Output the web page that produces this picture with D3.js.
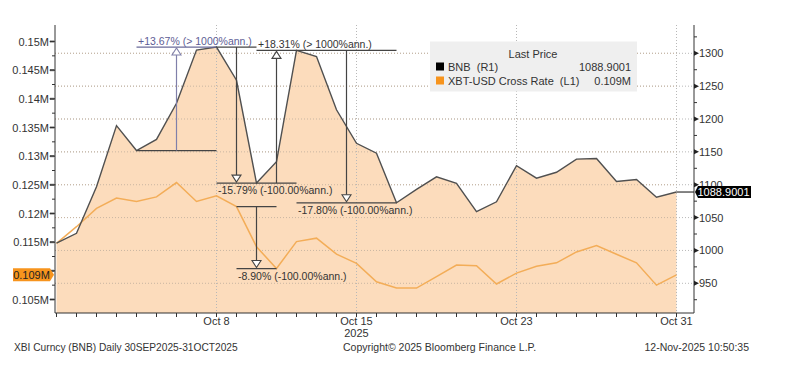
<!DOCTYPE html>
<html><head><meta charset="utf-8">
<script src="https://cdn.jsdelivr.net/npm/d3@7"></script>
<style>
body{margin:0;background:#fff}
svg{display:block}
text{font-family:"Liberation Sans",Arial,sans-serif;fill:#333}
</style>
</head><body><svg id="c" width="800" height="380"></svg>
<script>
// ---------- data ----------
const dates = ["2025-09-30","2025-10-01","2025-10-02","2025-10-03","2025-10-04","2025-10-05","2025-10-06","2025-10-07",
  "2025-10-08","2025-10-09","2025-10-10","2025-10-11","2025-10-12","2025-10-13","2025-10-14","2025-10-15",
  "2025-10-16","2025-10-17","2025-10-18","2025-10-19","2025-10-20","2025-10-21","2025-10-22","2025-10-23",
  "2025-10-24","2025-10-25","2025-10-26","2025-10-27","2025-10-28","2025-10-29","2025-10-30","2025-10-31"];
const bnb = [1011,1026,1097,1190,1152,1169,1224,1305,
  1309.5,1259,1102.5,1135,1304.5,1295,1214,1163,
  1148,1072.5,1093,1112,1102,1059,1074,1129,
  1110,1119,1139,1140,1105,1108,1081,1088.9001];
const xbt = [0.1148,0.1177,0.1209,0.1227,0.1221,0.1229,0.1254,0.1221,
  0.1231,0.1212,0.1142,0.1104,0.1151,0.1157,0.1129,0.1113,
  0.1081,0.1070,0.1070,0.1090,0.1110,0.1109,0.1077,0.1096,
  0.1108,0.1114,0.1133,0.1144,0.1129,0.1114,0.1075,0.1093];
const xTickDates = ["2025-10-08","2025-10-15","2025-10-23","2025-10-31"];
const xTickLabels = ["Oct 8","Oct 15","Oct 23","Oct 31"];
const leftTicks = [0.105,0.11,0.115,0.12,0.125,0.13,0.135,0.14,0.145,0.15];
const leftLabels = ["0.105M","","0.115M","0.12M","0.125M","0.13M","0.135M","0.14M","0.145M","0.15M"];
const rightTicks = [950,1000,1050,1100,1150,1200,1250,1300];
// annotations (trend measurements)
const annSeries = ["bnb","bnb","bnb","bnb","xbt"];
const annFrom = ["2025-10-04","2025-10-08","2025-10-10","2025-10-12","2025-10-09"];
const annTo   = ["2025-10-08","2025-10-10","2025-10-12","2025-10-17","2025-10-11"];
const annLabels = ["+13.67% (> 1000%ann.)","-15.79% (-100.00%ann.)","+18.31% (> 1000%ann.)","-17.80% (-100.00%ann.)","-8.90% (-100.00%ann.)"];
const legendNames = ["BNB  (R1)","XBT-USD Cross Rate  (L1)"];
const legendValues = ["1088.9001","0.109M"];
const footer = ["XBI Curncy (BNB) Daily 30SEP2025-31OCT2025","Copyright\u00A9 2025 Bloomberg Finance L.P.","12-Nov-2025 10:50:35"];

// ---------- setup ----------
const svg = d3.select("#c");
const parse = d3.utcParse("%Y-%m-%d");
const D = dates.map(parse);
const pL = 55, pR = 694, pT = 25, pB = 313;
const x = d3.scaleUtc().domain([D[0], D[D.length-1]]).range([56.5, 676.5]);
const yL = d3.scaleLinear().domain([0.105,0.15]).range([299.5,41.5]);
const yR = d3.scaleLinear().domain([950,1300]).range([283.3,53.3]);
const gridCol = "#b8b8b8";

// gridlines
svg.append("g").selectAll("line").data(rightTicks).join("line")
  .attr("x1",pL).attr("x2",pR).attr("y1",d=>yR(d)).attr("y2",d=>yR(d))
  .attr("stroke",gridCol).attr("stroke-dasharray","1,2");
// area
const area = d3.area().x((d,i)=>x(D[i])).y0(pB).y1(d=>yR(d));
svg.append("path").datum(bnb).attr("d",area).attr("fill","#fcdcbc");
// grid over fill
svg.append("g").selectAll("line").data(xTickDates).join("line")
  .attr("x1",d=>x(parse(d))).attr("x2",d=>x(parse(d))).attr("y1",pT).attr("y2",pB)
  .attr("stroke",gridCol).attr("stroke-dasharray","1,2");
svg.append("g").selectAll("line").data(rightTicks).join("line")
  .attr("x1",pL).attr("x2",x(D[D.length-1])).attr("y1",d=>yR(d)).attr("y2",d=>yR(d))
  .attr("stroke","#c9b6a2").attr("stroke-dasharray","1,2");

// lines
const lineR = d3.line().x((d,i)=>x(D[i])).y(d=>yR(d));
const lineL = d3.line().x((d,i)=>x(D[i])).y(d=>yL(d));
svg.append("path").datum(xbt).attr("d",lineL).attr("fill","none").attr("stroke","#f3ad58").attr("stroke-width",1.5);
svg.append("path").datum(bnb).attr("d",lineR).attr("fill","none").attr("stroke","#505050").attr("stroke-width",1.4);
svg.append("line").attr("x1",x(D[D.length-1])).attr("x2",pR)
  .attr("y1",yR(bnb[bnb.length-1])).attr("y2",yR(bnb[bnb.length-1])).attr("stroke","#505050").attr("stroke-width",1.4);

// annotations
annSeries.forEach((s,k)=>{
  const arr = s==="bnb"?bnb:xbt, sc = s==="bnb"?yR:yL;
  const i0 = dates.indexOf(annFrom[k]), i1 = dates.indexOf(annTo[k]);
  const x0 = x(D[i0]), x1 = x(D[i1]), y0 = sc(arr[i0]), y1 = sc(arr[i1]);
  const xm = (x0+x1)/2, up = y1 < y0;
  const blue = k===0;
  const lc = "#444", ac = blue?"#8080aa":"#444";
  const g = svg.append("g");
  g.append("line").attr("x1",x0).attr("x2",x1).attr("y1",y0).attr("y2",y0).attr("stroke",lc).attr("stroke-width",1.2);
  g.append("line").attr("x1",x0).attr("x2",x1).attr("y1",y1).attr("y2",y1).attr("stroke",blue?"#6a6a9a":lc).attr("stroke-width",1.2);
  const hb = up ? y1+8 : y1-8;
  g.append("line").attr("x1",xm).attr("x2",xm).attr("y1",y0).attr("y2",hb).attr("stroke",ac).attr("stroke-width",1.2);
  g.append("path").attr("d",`M${xm},${y1+(up?1:-1)}L${xm-4.5},${hb}L${xm+4.5},${hb}Z`)
    .attr("fill","#fff").attr("stroke",ac).attr("stroke-width",1.1);
  const t = g.append("text").attr("x",x0+1.5).attr("y",up? y1-2.5 : y1+11).attr("font-size","10.5px").text(annLabels[k]);
  if (blue) t.style("fill","#5d5d95");
});

// axes
const ax = svg.append("g");
ax.append("line").attr("x1",pL).attr("x2",pL).attr("y1",pT).attr("y2",pB).attr("stroke","#333");
ax.append("line").attr("x1",pR).attr("x2",pR).attr("y1",pT).attr("y2",pB).attr("stroke","#333");
ax.append("line").attr("x1",pL).attr("x2",pR).attr("y1",pB).attr("y2",pB).attr("stroke","#333");
// left ticks
ax.selectAll(".lt").data(leftTicks).join("path").attr("class","lt")
  .attr("d",d=>`M${pL-5},${yL(d)-0.6}L${pL-1},${yL(d)-0.6}L${pL},${yL(d)}L${pL-1},${yL(d)+0.6}L${pL-5},${yL(d)+0.6}Z`)
  .attr("fill","#333").attr("stroke","#333").attr("stroke-width",0.6);
ax.selectAll(".lm").data(leftTicks.slice(0,-1).map(d=>d+0.0025)).join("line").attr("class","lm")
  .attr("x1",pL-3).attr("x2",pL).attr("y1",d=>yL(d)).attr("y2",d=>yL(d)).attr("stroke","#333");
ax.selectAll(".ll").data(leftTicks).join("text").attr("class","ll")
  .attr("x",pL-6).attr("y",d=>yL(d)+4).attr("text-anchor","end").attr("font-size","11px")
  .text((d,i)=>leftLabels[i]);
// right ticks
ax.selectAll(".rt").data(rightTicks).join("path").attr("class","rt")
  .attr("d",d=>`M${pR},${yR(d)-2.5}L${pR+5},${yR(d)}L${pR},${yR(d)+2.5}Z`).attr("fill","#222");
ax.selectAll(".rm").data(rightTicks.map(d=>d-25).concat([1325])).join("line").attr("class","rm")
  .attr("x1",pR).attr("x2",pR+3).attr("y1",d=>yR(d)).attr("y2",d=>yR(d)).attr("stroke","#333");
// right labels: the one under the last-price badge is clipped to its visible top part
const ry = yR(bnb[bnb.length-1]);
svg.append("clipPath").attr("id","rclip").append("rect").attr("x",pR).attr("y",0).attr("width",100).attr("height",ry-6);
ax.selectAll(".rl").data(rightTicks).join("text").attr("class","rl")
  .attr("x",pR+5).attr("y",d=>yR(d)+4).attr("font-size","11px")
  .attr("clip-path",d=>Math.abs(yR(d)-ry)<12?"url(#rclip)":null).text(d=>d);
// x ticks
ax.selectAll(".xt").data(D).join("line").attr("class","xt")
  .attr("x1",d=>x(d)).attr("x2",d=>x(d)).attr("y1",pB).attr("y2",pB+4).attr("stroke","#333");
ax.selectAll(".xl").data(xTickDates).join("text").attr("class","xl")
  .attr("x",d=>x(parse(d))).attr("y",pB+12).attr("text-anchor","middle").attr("font-size","11px")
  .text((d,i)=>xTickLabels[i]);
ax.append("text").attr("x",x(parse(xTickDates[1]))).attr("y",pB+24).attr("text-anchor","middle")
  .attr("font-size","11px").text("2025");

// badges
const by = yL(xbt[xbt.length-1]);
svg.append("path").attr("d",`M13,${by-6.5}L50,${by-6.5}L54,${by}L50,${by+6.5}L13,${by+6.5}Z`).attr("fill","#f7941d");
svg.append("text").attr("x",31.5).attr("y",by+4).attr("text-anchor","middle").attr("font-size","11px").style("fill","#222").text(legendValues[1]);
svg.append("path").attr("d",`M${pR+1},${ry}L${pR+4},${ry-6}L751,${ry-6}L751,${ry+6}L${pR+4},${ry+6}Z`).attr("fill","#000");
svg.append("text").attr("x",723.5).attr("y",ry+4).attr("text-anchor","middle").attr("font-size","11px").style("fill","#fff").text(legendValues[0]);

// legend
const lg = svg.append("g");
lg.append("rect").attr("x",430).attr("y",41.5).attr("width",207).attr("height",50).attr("fill","#efefef");
lg.append("text").attr("x",533).attr("y",58).attr("text-anchor","middle").attr("font-size","11px").text("Last Price");
const legCols = ["#000","#f7941d"];
legendNames.forEach((n,i)=>{
  const yy = 70.5 + i*14;
  lg.append("rect").attr("x",436).attr("y",yy-8).attr("width",8).attr("height",8).attr("fill",legCols[i]);
  lg.append("text").attr("x",448).attr("y",yy).attr("font-size","11px").style("white-space","pre").text(n);
  lg.append("text").attr("x",631).attr("y",yy).attr("text-anchor","end").attr("font-size","11px").text(legendValues[i]);
});

// footer
svg.append("text").attr("x",14).attr("y",351).attr("font-size","10.2px").text(footer[0]);
svg.append("text").attr("x",343).attr("y",351).attr("font-size","10.5px").text(footer[1]);
svg.append("text").attr("x",749).attr("y",351).attr("text-anchor","end").attr("font-size","10.5px").text(footer[2]);
</script>
</body></html>
